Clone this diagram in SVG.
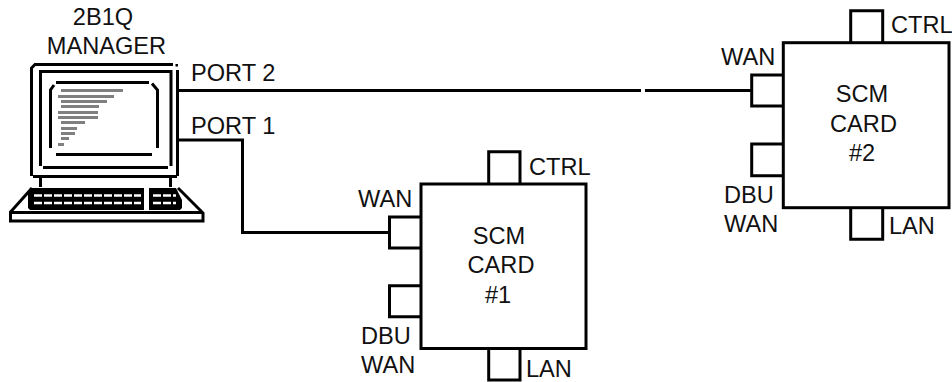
<svg xmlns="http://www.w3.org/2000/svg" width="952" height="382" viewBox="0 0 952 382">
<style>
text{font-family:"Liberation Sans",Arial,sans-serif;font-size:23.600px;fill:#111}
.m{text-anchor:middle}
.b{fill:#fff;stroke:#000;stroke-width:3}
.p{fill:none;stroke:#000;stroke-width:3}
.w{stroke:#000;stroke-width:3;fill:none}
.g{fill:#808080}
.k{fill:#000}
.d{stroke:#fff;fill:none}
</style>
<rect width="952" height="382" fill="#fff"/>
<g id="connectors">
<path class="w" d="M179 90.500H641M645 90.500H752"/>
<path class="w" d="M179 140H242.500V232.500H389"/>
</g>
<g id="manager">
<text class="m" x="103" y="25">2B1Q</text>
<text class="m" x="106.500" y="54">MANAGER</text>
<path class="p" d="M31.500 176V68L35 64.500H173M177.500 70V176M33 176.500H177"/>
<rect class="k" x="175.500" y="64" width="2.500" height="2.500"/>
<path class="p" d="M40.500 166V71.500H171V166M43 167.500H168"/>
<path class="p" d="M56 82.500H149M56 154.500H152M50.500 148V90L54 85M157.500 148V90L152 83.500"/>
<g class="g">
<rect x="61" y="89" width="62" height="3"/><rect x="58" y="95" width="56" height="3"/><rect x="61" y="100" width="46" height="3"/><rect x="61" y="105" width="38" height="3"/><rect x="58" y="111" width="40" height="3"/><rect x="58" y="116" width="40" height="3"/><rect x="61" y="121" width="24" height="3"/><rect x="61" y="127" width="16" height="3"/><rect x="61" y="132" width="14" height="3"/><rect x="61" y="137" width="8" height="3"/><rect x="58" y="143" width="6" height="3"/>
</g>
<path class="p" d="M40.500 178V187M170.500 178V187"/>
<path class="k" d="M30 188H144V210H30L28 208V192ZM149 188H176L182 200V208L180 210H149Z"/>
<path class="d" stroke-width="2.500" stroke-dasharray="8 2" d="M34 195.500H141M153 195.500H176M34 203H141M153 203H176"/>
<path class="p" d="M32 188L10.500 212V221H203V213L178 188M10.500 212.500H203"/>
</g>
<g id="card1">
<path class="b" d="M488.700 183V151.700H520V183M488.700 349V380H520V349M420 217H389.500V248H420M420 285.700H389.500V316.700H420"/>
<rect class="b" x="421" y="184" width="165" height="164.500"/>
<text x="529" y="174.500">CTRL</text><text x="358" y="206.700">WAN</text>
<text class="m" x="499" y="244">SCM</text><text class="m" x="501" y="272.700">CARD</text><text class="m" x="498" y="302.700">#1</text>
<text x="361" y="344.300">DBU</text><text x="361" y="373.300">WAN</text><text x="526" y="376.700">LAN</text>
</g>
<g id="card2">
<path class="b" d="M850.700 42V10.700H882.700V42M850.700 207V239.300H882.700V207M783 75H751.700V106H783M783 144H751.700V175.700H783"/>
<rect class="b" x="783.300" y="42.700" width="165.700" height="165"/>
<text x="891" y="32.700">CTRL</text><text x="721" y="65">WAN</text>
<text class="m" x="862" y="101.700">SCM</text><text class="m" x="863.500" y="131.700">CARD</text><text class="m" x="862" y="161">#2</text>
<text x="724" y="203.300">DBU</text><text x="724" y="231.700">WAN</text><text x="889" y="234.300">LAN</text>
</g>
<g id="port-labels">
<text x="191" y="81">PORT 2</text>
<text x="191" y="134">PORT 1</text>
</g>
</svg>
